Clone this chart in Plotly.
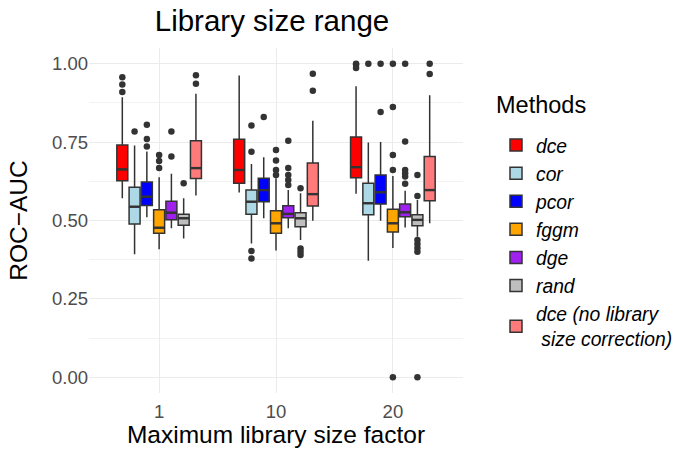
import plotly.graph_objects as go

GROUPS = ["1", "10", "20"]
METHODS = ["dce", "cor", "pcor", "fggm", "dge", "rand", "dce (no library<br> size correction)"]
COLORS = ["#FF0000", "#ADD8E6", "#0000FF", "#FFA500", "#A020F0", "#BEBEBE", "#FF7B7B"]

LOWER = {
    "dce": [0.571, 0.589, 0.585], "cor": [0.392, 0.427, 0.372], "pcor": [0.510, 0.507, 0.499],
    "fggm": [0.408, 0.404, 0.412], "dge": [0.475, 0.475, 0.478], "rand": [0.443, 0.438, 0.448],
    "dce_nolib": [0.580, 0.499, 0.491],
}
Q1 = {
    "dce": [0.627, 0.619, 0.636], "cor": [0.489, 0.520, 0.518], "pcor": [0.548, 0.560, 0.553],
    "fggm": [0.459, 0.459, 0.463], "dge": [0.502, 0.509, 0.512], "rand": [0.485, 0.480, 0.483],
    "dce_nolib": [0.634, 0.546, 0.563],
}
MEDIAN = {
    "dce": [0.663, 0.661, 0.670], "cor": [0.544, 0.560, 0.555], "pcor": [0.576, 0.597, 0.590],
    "fggm": [0.477, 0.491, 0.491], "dge": [0.525, 0.521, 0.526], "rand": [0.507, 0.507, 0.502],
    "dce_nolib": [0.667, 0.584, 0.597],
}
Q3 = {
    "dce": [0.741, 0.759, 0.766], "cor": [0.606, 0.597, 0.619], "pcor": [0.623, 0.635, 0.645],
    "fggm": [0.534, 0.531, 0.536], "dge": [0.561, 0.547, 0.553], "rand": [0.520, 0.525, 0.518],
    "dce_nolib": [0.754, 0.683, 0.704],
}
UPPER = {
    "dce": [0.893, 0.962, 0.928], "cor": [0.739, 0.680, 0.749], "pcor": [0.720, 0.702, 0.750],
    "fggm": [0.638, 0.635, 0.642], "dge": [0.649, 0.597, 0.595], "rand": [0.571, 0.587, 0.565],
    "dce_nolib": [0.904, 0.818, 0.899],
}
OUTLIERS = {
    "dce": [[0.957, 0.934, 0.910], [], [1.0, 0.997, 0.986]],
    "cor": [[0.784], [0.803, 0.719, 0.403, 0.379], [1.0]],
    "pcor": [[0.805, 0.760, 0.736], [0.830], [1.0, 0.846]],
    "fggm": [[0.709, 0.690, 0.667], [0.725, 0.691, 0.661, 0.645], [1.0, 0.862, 0.709, 0.661, 0.0]],
    "dge": [[0.784, 0.704], [0.754, 0.667, 0.645, 0.629, 0.613], [1.0, 0.752, 0.661, 0.651, 0.640, 0.617]],
    "rand": [[0.619], [0.603, 0.411, 0.400, 0.390], [0.645, 0.578, 0.438, 0.425, 0.412, 0.400, 0.0]],
    "dce_nolib": [[0.963, 0.936], [0.968, 0.914], [1.0, 0.967]],
}
KEYS = ["dce", "cor", "pcor", "fggm", "dge", "rand", "dce_nolib"]

SPACING = 0.105
BOXW = 0.094
LINE = "#333333"
FONT = "Liberation Sans, Arial, sans-serif"

fig = go.Figure()
n = len(KEYS)
for i, (key, name, col) in enumerate(zip(KEYS, METHODS, COLORS)):
    off = (i - (n - 1) / 2) * SPACING
    xs = [g + 1 + off for g in range(len(GROUPS))]
    fig.add_trace(go.Box(
        x=xs, q1=Q1[key], median=MEDIAN[key], q3=Q3[key],
        lowerfence=LOWER[key], upperfence=UPPER[key],
        name=name, fillcolor=col, line=dict(color=LINE, width=1.5),
        width=BOXW, whiskerwidth=0, boxpoints=False,
        legendgroup=key, hoverinfo="skip",
    ))
    # thicker median bar, as in the ggplot original
    fig.add_trace(go.Scatter(
        x=[v for x in xs for v in (x - BOXW / 2, x + BOXW / 2, None)],
        y=[v for m in MEDIAN[key] for v in (m, m, None)],
        mode="lines", line=dict(color=LINE, width=2.4), showlegend=False,
        legendgroup=key, hoverinfo="skip",
    ))
    ox, oy = [], []
    for g, vals in enumerate(OUTLIERS[key]):
        for v in vals:
            ox.append(g + 1 + off)
            oy.append(v)
    fig.add_trace(go.Scatter(
        x=ox, y=oy, mode="markers", showlegend=False, legendgroup=key,
        marker=dict(color=LINE, size=6.5, line=dict(width=0)), hoverinfo="skip",
    ))

fig.update_layout(
    width=678, height=452,
    margin=dict(l=89, r=215, t=48, b=59, autoexpand=False),
    paper_bgcolor="white", plot_bgcolor="white",
    font=dict(family=FONT, color="#1A1A1A"),
    title=dict(text="Library size range", x=272 / 678, xanchor="center",
               y=1 - 21 / 452, yanchor="middle", font=dict(size=29.5, color="#000000")),
    showlegend=True,
    legend=dict(
        x=(496 - 89) / 374, xanchor="left", y=(393 - 126) / 345, yanchor="top",
        font=dict(size=19.3, color="#000000", style="italic"),
        traceorder="normal", bgcolor="rgba(0,0,0,0)",
    ),
    annotations=[dict(
        text="Methods", xref="paper", yref="paper", x=(494 - 89) / 374, y=(393 - 105) / 345,
        xanchor="left", yanchor="middle", showarrow=False,
        font=dict(size=23.5, color="#000000", family=FONT),
    )],
    xaxis=dict(
        range=[0.4, 3.6], tickvals=[1, 2, 3], ticktext=GROUPS,
        showgrid=True, gridcolor="#EBEBEB", gridwidth=1.1, zeroline=False,
        showline=False, ticks="", tickfont=dict(size=18.5, color="#4D4D4D"),
        ticklabelstandoff=5,
        title=dict(text="Maximum library size factor", font=dict(size=24.5, color="#000000"), standoff=4),
    ),
    yaxis=dict(
        range=[-0.05, 1.05], tickvals=[0, 0.25, 0.5, 0.75, 1.0],
        ticktext=["0.00", "0.25", "0.50", "0.75", "1.00"],
        showgrid=True, gridcolor="#EBEBEB", gridwidth=1.1, zeroline=False,
        showline=False, ticks="", tickfont=dict(size=18.5, color="#4D4D4D"),
        minor=dict(tickvals=[0.125, 0.375, 0.625, 0.875], showgrid=True, gridcolor="#F2F2F2", gridwidth=0.6),
        title=dict(text="ROC\u2212AUC", font=dict(size=24.5, color="#000000"), standoff=17),
    ),
)

fig.write_html("out.html")
